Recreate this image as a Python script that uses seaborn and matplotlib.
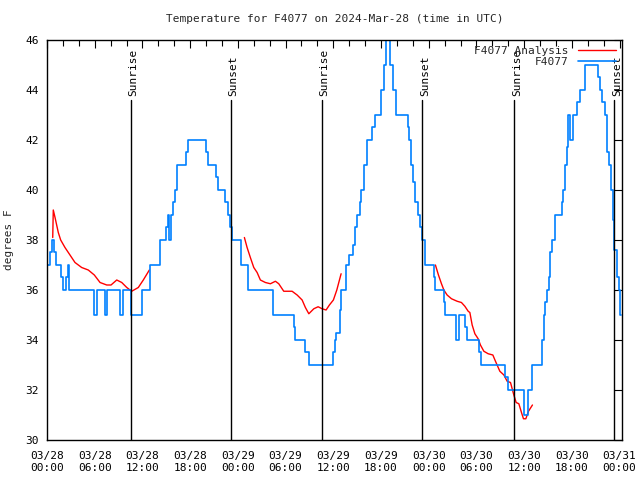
import numpy as np
import pandas as pd
import matplotlib
matplotlib.use("Agg")
import matplotlib.pyplot as plt
import matplotlib.dates as mdates
import seaborn as sns

# hours since 2024-03-28 00:00 UTC
start = pd.Timestamp("2024-03-28 00:00")

obs_hours = [0.16, 0.38, 0.59, 0.92, 1.13, 1.76, 2.01, 2.39, 2.64, 2.81,
             5.97, 6.33, 7.27, 7.58, 9.12, 9.60, 10.59, 11.89, 12.96, 14.21,
             14.97, 15.18, 15.38, 15.53, 15.89, 16.10, 16.31, 16.39, 17.48, 17.77,
             19.96, 20.29, 21.26, 21.47, 22.39, 22.81, 23.02, 23.23, 24.40, 25.28,
             28.39, 31.03, 31.19, 32.49, 32.92, 35.97, 36.19, 36.39, 36.82, 37.02,
             37.65, 37.95, 38.49, 38.70, 39.03, 39.33, 39.53, 39.87, 40.29, 40.92,
             41.22, 42.05, 42.39, 42.68, 43.08, 43.52, 43.94, 45.41, 45.53, 45.79,
             46.04, 46.33, 46.67, 46.88, 47.21, 47.51, 47.58, 48.64, 48.84, 49.89,
             50.09, 51.48, 51.78, 52.62, 52.83, 54.38, 54.63, 57.65, 57.95, 60.00,
             60.54, 61.04, 62.23, 62.43, 62.64, 62.86, 63.06, 63.27, 63.48, 63.90,
             64.74, 64.94, 65.16, 65.37, 65.57, 65.79, 66.08, 66.62, 66.96, 67.67,
             69.25, 69.56, 69.81, 70.10, 70.40, 70.69, 70.94, 71.23, 71.35, 71.66,
             71.86, 72.11, 72.20]
obs_temps = [37.0, 37.5, 38.0, 37.5, 37.0, 36.5, 36.0, 36.5, 37.0, 36.0,
             35.0, 36.0, 35.0, 36.0, 35.0, 36.0, 35.0, 36.0, 37.0, 38.0,
             38.5, 39.0, 38.0, 39.0, 39.5, 40.0, 40.5, 41.0, 41.5, 42.0,
             41.5, 41.0, 40.5, 40.0, 39.5, 39.0, 38.5, 38.0, 37.0, 36.0,
             35.0, 34.5, 34.0, 33.5, 33.0, 33.5, 34.0, 34.3, 35.2, 36.0,
             37.0, 37.4, 37.8, 38.5, 39.0, 39.5, 40.0, 41.0, 42.0, 42.5,
             43.0, 44.0, 45.0, 46.5, 45.0, 44.0, 43.0, 42.5, 42.0, 41.0,
             40.3, 39.5, 39.0, 38.5, 38.0, 37.5, 37.0, 36.5, 36.0, 35.5,
             35.0, 34.0, 35.0, 34.5, 34.0, 33.5, 33.0, 32.5, 32.0, 31.0,
             32.0, 33.0, 34.0, 35.0, 35.5, 36.0, 36.5, 37.5, 38.0, 39.0,
             39.5, 40.0, 41.0, 41.7, 43.0, 42.0, 43.0, 43.5, 44.0, 45.0,
             44.5, 44.0, 43.5, 43.0, 41.5, 41.0, 40.0, 38.8, 37.6, 36.5,
             36.0, 35.0, 35.0]

ana_hours_1 = [0.72, 0.79, 1.01, 1.42, 1.72, 2.26, 2.68, 3.52, 4.36, 5.19,
               5.95, 6.67, 7.51, 8.05, 8.77, 9.40, 10.03, 10.65, 11.48, 12.11, 12.87]
ana_temps_1 = [38.1, 39.2, 38.9, 38.3, 38.0, 37.7, 37.5, 37.1, 36.9, 36.8,
               36.6, 36.3, 36.2, 36.2, 36.4, 36.3, 36.1, 35.95, 36.1, 36.4, 36.8]
ana_hours_2 = [24.82, 25.16, 25.57, 26.00, 26.42, 26.83, 27.46, 28.09, 28.72, 29.14,
               29.77, 30.82, 31.45, 32.08, 32.49, 32.92, 33.55, 34.09, 34.59, 35.09,
               35.51, 36.01, 36.44, 36.98]
ana_temps_2 = [38.1, 37.7, 37.3, 36.9, 36.7, 36.4, 36.3, 36.25, 36.35, 36.25,
               35.95, 35.95, 35.8, 35.6, 35.3, 35.05, 35.25, 35.33, 35.25, 35.2,
               35.4, 35.6, 36.0, 36.65]
ana_hours_3 = [48.84, 49.22, 49.60, 49.90, 50.31, 50.86, 51.57, 52.11, 52.54, 52.96,
               53.17, 53.46, 53.80, 54.21, 54.50, 54.93, 55.47, 56.06, 56.39, 56.94,
               57.45, 57.86, 58.28, 58.70, 58.99, 59.33, 59.66, 59.91, 60.21, 60.54, 61.04]
ana_temps_3 = [37.0, 36.6, 36.25, 36.0, 35.8, 35.65, 35.55, 35.5, 35.35, 35.15,
               35.1, 34.6, 34.25, 34.05, 33.8, 33.55, 33.45, 33.4, 33.15, 32.75,
               32.6, 32.35, 32.3, 31.8, 31.5, 31.45, 31.1, 30.85, 30.85, 31.15, 31.4]

sun_hours = [10.57, 23.14, 34.59, 47.17, 58.74, 71.32]
sun_labels = ["Sunrise", "Sunset", "Sunrise", "Sunset", "Sunrise", "Sunset"]


def to_time(hours):
    return start + pd.to_timedelta(hours, unit="h")


sns.set_theme(style="white")
plt.rcParams["font.family"] = ["DejaVu Sans Mono"]
plt.rcParams["font.size"] = 8

fig = plt.figure(figsize=(6.4, 4.8), dpi=100)
ax = fig.add_axes([47 / 640, 40 / 480, 575 / 640, 400 / 480])

red = "#ff0000"
blue = "#0080ff"

for i, (h, t) in enumerate([(ana_hours_1, ana_temps_1),
                            (ana_hours_2, ana_temps_2),
                            (ana_hours_3, ana_temps_3)]):
    seg = pd.DataFrame({"time": to_time(h), "temp": t})
    sns.lineplot(data=seg, x="time", y="temp", ax=ax, color=red, linewidth=1,
                 estimator=None, sort=False,
                 label="F4077 Analysis" if i == 0 else None)

obs = pd.DataFrame({"time": to_time(obs_hours), "temp": obs_temps})
sns.lineplot(data=obs, x="time", y="temp", ax=ax, color=blue, linewidth=1.2,
             estimator=None, sort=False, drawstyle="steps-post", label="F4077")

for h, lab in zip(sun_hours, sun_labels):
    t = to_time(h)
    ax.plot([t, t], [30, 43.6], color="black", linewidth=1)
    ax.text(t + pd.Timedelta(minutes=20), 43.75, lab, rotation=90, ha="center",
            va="bottom", fontsize=8, color="black")

ax.set_xlim(to_time(0), to_time(72.3))
ax.set_ylim(30, 46)
ax.set_yticks(np.arange(30, 47, 2))
ax.xaxis.set_major_locator(mdates.HourLocator(byhour=[0, 6, 12, 18]))
ax.xaxis.set_minor_locator(mdates.HourLocator(byhour=range(0, 24, 2)))
ax.xaxis.set_major_formatter(mdates.DateFormatter("%m/%d\n%H:%M"))
ax.tick_params(axis="both", which="both", direction="in", top=True, right=True,
               labelsize=8, colors="black")
ax.tick_params(axis="x", which="major", pad=8)
ax.tick_params(axis="y", which="major", pad=6)
ax.tick_params(which="major", length=6, width=0.8)
ax.tick_params(which="minor", length=4, width=0.8)
for s in ax.spines.values():
    s.set_color("black")
    s.set_linewidth(1)

ax.set_xlabel("")
ax.set_ylabel("degrees F", fontsize=8, labelpad=8)
ax.set_title("Temperature for F4077 on 2024-Mar-28 (time in UTC)", fontsize=8, pad=13)

ax.legend(loc="upper right", frameon=False, markerfirst=False, fontsize=8,
          handlelength=3.5, borderaxespad=0.1, labelspacing=0.1)

fig.savefig("out.png", dpi=100)
